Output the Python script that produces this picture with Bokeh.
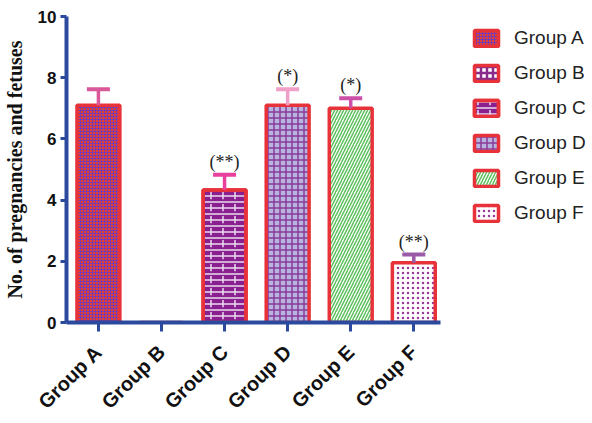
import math
from bokeh.plotting import figure
from bokeh.models import (ColumnDataSource, Range1d, FixedTicker, Legend, LegendItem)
from bokeh.embed import file_html
from bokeh.resources import INLINE
from bokeh.core.properties import value

groups = ["Group A", "Group B", "Group C", "Group D", "Group E", "Group F"]
means = [7.1, 0.0, 4.33, 7.1, 7.0, 1.95]
errors = [0.52, 0.0, 0.5, 0.52, 0.33, 0.27]
signif = ["", "", "(**)", "(*)", "(*)", "(**)"]
y_ticks = [0, 2, 4, 6, 8, 10]

fills = ["#e8402e", "#ffffff", "#8a2090", "#b8b4e0", "#ffffff", "#ffffff"]
hatches = ["cross", "cross", "horizontal_line", "cross", "right_diagonal_line", "dot"]
hatch_colors = ["#7a3ab0", "#8a2a8a", "#eadcf0", "#8a3a9a", "#5cc05c", "#9a3a9a"]
hatch_scales = [3, 6, 6, 6, 6, 5]
hatch_weights = [1.1, 2.5, 1.5, 1.5, 1.5, 1.5]
err_colors = ["#d8589a", "#d8589a", "#e8409c", "#f0a0c8", "#cc50a8", "#9a5aa8"]

xs = list(range(1, len(groups) + 1))
tops = [m + e for m, e in zip(means, errors)]

p = figure(width=592, height=423, output_backend="svg", toolbar_location=None,
           x_range=Range1d(0.494, 8.833), y_range=Range1d(0, 10),
           min_border_left=65, min_border_right=0, min_border_top=16,
           min_border_bottom=100)
p.outline_line_color = None
p.grid.visible = False
p.background_fill_color = "white"

axis_blue = "#2b4a9e"

renderers = []
for i, g in enumerate(groups):
    src = ColumnDataSource(dict(x=[xs[i]], top=[means[i]]))
    r = p.vbar(x="x", top="top", width=0.68, bottom=0, source=src,
               fill_color=fills[i], line_color="#e8323a", line_width=3.5,
               hatch_pattern=hatches[i], hatch_color=hatch_colors[i],
               hatch_scale=hatch_scales[i], hatch_weight=hatch_weights[i])
    rs = [r]
    if i == 2:  # brick joints
        r2 = p.vbar(x="x", top="top", width=0.68, bottom=0, source=src,
                    fill_alpha=0, line_color="#e8323a", line_width=3.5,
                    hatch_pattern="vertical_dash", hatch_color="#eadcf0",
                    hatch_scale=12, hatch_weight=1.5)
        rs.append(r2)
    renderers.append(rs)

sel = [i for i in range(len(groups)) if errors[i] > 0]
ebs = ColumnDataSource(dict(x=[xs[i] for i in sel], y0=[means[i] for i in sel],
                            y1=[tops[i] for i in sel], c=[err_colors[i] for i in sel],
                            lab=[signif[i] for i in sel]))
p.segment(x0="x", y0="y0", x1="x", y1="y1", source=ebs, line_color="c", line_width=3.5)
p.scatter(x="x", y="y1", source=ebs, marker="dash", size=23, line_color="c",
          line_width=4)
p.text(x="x", y="y1", text="lab", source=ebs, text_align="center",
       text_baseline="bottom", y_offset=-3, text_font=value("Liberation Serif"),
       text_font_size="18px", text_color="#222222")

# axes
p.xaxis.ticker = FixedTicker(ticks=xs)
p.xaxis.bounds = (0.494, 6.427)
p.xaxis.major_label_overrides = {x: g for x, g in zip(xs, groups)}
p.xaxis.major_label_orientation = math.pi / 4
p.yaxis.ticker = FixedTicker(ticks=y_ticks)
for ax in (p.xaxis[0], p.yaxis[0]):
    ax.axis_line_color = axis_blue
    ax.axis_line_width = 4
    ax.major_tick_line_color = axis_blue
    ax.major_tick_line_width = 3
    ax.major_tick_in = 0
    ax.minor_tick_line_color = None
    ax.major_label_text_font = "Liberation Sans"
    ax.major_label_text_font_style = "bold"
    ax.major_label_text_color = "#111111"
p.xaxis.major_tick_out = 9
p.yaxis.major_tick_out = 6
p.xaxis.major_label_text_font_size = "20px"
p.yaxis.major_label_text_font_size = "17px"
p.yaxis.major_label_standoff = 4
p.xaxis.major_label_standoff = 17
p.yaxis.axis_label = "No. of pregnancies and fetuses"
p.yaxis.axis_label_text_font = "Liberation Serif"
p.yaxis.axis_label_text_font_style = "bold"
p.yaxis.axis_label_text_font_size = "20px"
p.yaxis.axis_label_text_color = "#111111"
p.yaxis.axis_label_standoff = 9

legend = Legend(items=[LegendItem(label=g, renderers=r) for g, r in zip(groups, renderers)],
                location=(405, 98), glyph_width=30, glyph_height=20,
                label_height=20, spacing=13, padding=0, margin=0,
                border_line_color=None, background_fill_alpha=0,
                label_standoff=13, label_text_font="Liberation Sans",
                label_text_font_size="19px", label_text_color="#222222")
p.add_layout(legend)

open("out.html", "w").write(file_html(p, INLINE))
